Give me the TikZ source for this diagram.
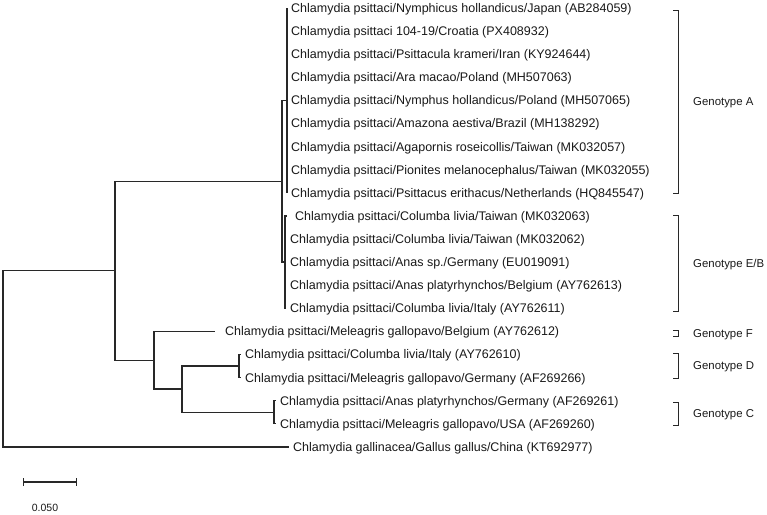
\documentclass[tikz,border=0pt]{standalone}
\usepackage{fontspec}
\setmainfont{Liberation Sans}
\usetikzlibrary{arrows.meta}
\definecolor{ink}{RGB}{25,25,25}
\definecolor{branch}{RGB}{40,40,40}

\begin{document}
\begin{tikzpicture}[
  x=1pt, y=-1pt,
  font=\fontsize{12.5}{14}\selectfont,
  text=ink,
  leaf/.style={anchor=west, inner xsep=4pt, inner ysep=0pt, text height=11pt, text depth=2.2pt},
  edge/.style={draw=branch, line width=1.3pt},
  clade/.style={draw=branch, line width=1pt},
  gtype/.style={anchor=west, inner xsep=0pt, inner ysep=0pt, text height=10pt, text depth=1.8pt, font=\fontsize{11.4}{13}\selectfont},
]
\useasboundingbox (0,0) rectangle (767,514);

% ---- genotype A leaves ----
\node[leaf] (L0) at (287,8)     {Chlamydia psittaci/Nymphicus hollandicus/Japan (AB284059)};
\node[leaf] (L1) at (287,31.1)  {Chlamydia psittaci 104-19/Croatia (PX408932)};
\node[leaf] (L2) at (287,54.2)  {Chlamydia psittaci/Psittacula krameri/Iran (KY924644)};
\node[leaf] (L3) at (287,77.3)  {Chlamydia psittaci/Ara macao/Poland (MH507063)};
\node[leaf] (L4) at (287,100.4) {Chlamydia psittaci/Nymphus hollandicus/Poland (MH507065)};
\node[leaf] (L5) at (287,123.5) {Chlamydia psittaci/Amazona aestiva/Brazil (MH138292)};
\node[leaf] (L6) at (287,146.6) {Chlamydia psittaci/Agapornis roseicollis/Taiwan (MK032057)};
\node[leaf] (L7) at (287,169.7) {Chlamydia psittaci/Pionites melanocephalus/Taiwan (MK032055)};
\node[leaf] (L8) at (287,192.8) {Chlamydia psittaci/Psittacus erithacus/Netherlands (HQ845547)};

% ---- genotype E/B leaves ----
\node[leaf, inner xsep=8pt] (L9) at (287,215.9) {Chlamydia psittaci/Columba livia/Taiwan (MK032063)};
\node[leaf] (L10) at (286,239.0) {Chlamydia psittaci/Columba livia/Taiwan (MK032062)};
\node[leaf] (L11) at (286,262.1) {Chlamydia psittaci/Anas sp./Germany (EU019091)};
\node[leaf] (L12) at (286,285.2) {Chlamydia psittaci/Anas platyrhynchos/Belgium (AY762613)};
\node[leaf] (L13) at (286,308.3) {Chlamydia psittaci/Columba livia/Italy (AY762611)};

% ---- genotypes F, D, C + outgroup ----
\node[leaf, inner xsep=10pt] (L14) at (215,331.4) {Chlamydia psittaci/Meleagris gallopavo/Belgium (AY762612)};
\node[leaf] (L15) at (241,354.5) {Chlamydia psittaci/Columba livia/Italy (AY762610)};
\node[leaf] (L16) at (241,377.6) {Chlamydia psittaci/Meleagris gallopavo/Germany (AF269266)};
\node[leaf] (L17) at (276,400.7) {Chlamydia psittaci/Anas platyrhynchos/Germany (AF269261)};
\node[leaf] (L18) at (276,423.8) {Chlamydia psittaci/Meleagris gallopavo/USA (AF269260)};
\node[leaf] (L19) at (289,446.9) {Chlamydia gallinacea/Gallus gallus/China (KT692977)};

% ---- inner nodes ----
\coordinate (nA)   at (287,100.4);
\coordinate (nEB)  at (285,262.1);
\coordinate (nAEB) at (282,181.25);
\coordinate (nD)   at (239,366);
\coordinate (nC)   at (274,412.25);
\coordinate (nDC)  at (182,389.1);
\coordinate (nFDC) at (154,360.25);
\coordinate (nPs)  at (115,270.75);
\coordinate (nR)   at (3,358.8);

% ---- branches ----
\draw[edge] (nR) |- (nPs) (nR) |- (L19.west);
\draw[edge] (nPs) |- (nAEB) (nPs) |- (nFDC);
\draw[edge] (nAEB) |- (nA) (nAEB) |- (nEB);
\foreach \i in {0,...,8} \draw[edge] (nA) |- (L\i.west);
\foreach \i in {9,...,13} \draw[edge] (nEB) |- (L\i.west);
\draw[edge] (nFDC) |- (L14.west) (nFDC) |- (nDC);
\draw[edge] (nDC) |- (nD) (nDC) |- (nC);
\draw[edge] (nD) |- (L15.west) (nD) |- (L16.west);
\draw[edge] (nC) |- (L17.west) (nC) |- (L18.west);

% ---- genotype brackets ----
\foreach \top/\bot/\lbl [count=\k] in {10/193/A, 215/311/{E/B}, 330/336/F, 353/378/D, 402/425/C} {
  \draw[clade] (673,\top) -- (678,\top) -- (678,\bot) -- (673,\bot);
  \node[gtype] (G\k) at (693,{(\top+\bot)/2}) {Genotype \lbl};
}

% ---- scale bar ----
\coordinate (s0) at (23,482);
\coordinate (s1) at (77,482);
\draw[edge, {Bar[width=8pt]}-{Bar[width=8pt]}] (s0) -- (s1);
\node[font=\fontsize{10.5}{12}\selectfont] (SL) at (45,508) {0.050};

\end{tikzpicture}
\end{document}
